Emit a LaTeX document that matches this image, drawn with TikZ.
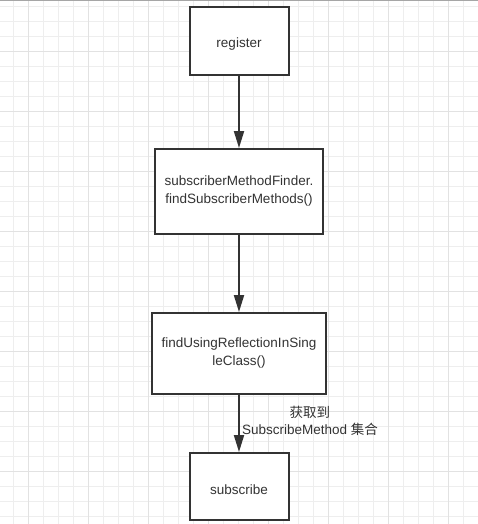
\documentclass[tikz,border=0pt]{standalone}
\usepackage{fontspec}
\setmainfont{Liberation Sans}
\newfontfamily\cjk{Noto Sans CJK SC}
\usetikzlibrary{positioning, arrows.meta}
\definecolor{gridminor}{HTML}{EEEEEE}
\definecolor{gridmajor}{HTML}{E2E2E2}
\definecolor{ink}{HTML}{333333}
\tikzset{box/.style = {
  % Rectangle:
  rectangle,
  draw=ink, line width=2pt, fill=white,
  % Text
  text=ink, align=center, inner sep=0pt,
  font=\fontsize{13.5}{18}\selectfont,
  execute at begin node={\rule{0pt}{15.5pt}}
  }}
\tikzset{note/.style = {
  text=ink, align=center, inner sep=0pt,
  font=\fontsize{13.5}{17}\selectfont
  }}
\tikzset{arrow/.style = {
  -{Triangle[length=17pt,width=10pt]},
  draw=ink,
  line width=2pt
  }}

\begin{document}
\begin{tikzpicture}[x=1pt, y=1pt]
\useasboundingbox (0,0) rectangle (478,-524);

% GRID
\fill [white] (0,0) rectangle (478,-524);
\foreach \k in {0,...,31}
  \draw [gridminor, line width=1pt] ({13.33+15*\k},0) -- ({13.33+15*\k},-524);
\foreach \k in {0,...,34}
  \draw [gridminor, line width=1pt] (0,{-6.67-15*\k}) -- (478,{-6.67-15*\k});
\foreach \k in {0,...,7}
  \draw [gridmajor, line width=1.5pt] ({28.33+60*\k},0) -- ({28.33+60*\k},-524);
\foreach \k in {0,...,7}
  \draw [gridmajor, line width=1.5pt] (0,{-51.67-60*\k}) -- (478,{-51.67-60*\k});
\draw [gray!70, line width=1.5pt] (0,-0.75) -- (478,-0.75);

% NODES
\node (register) [box, minimum width=99pt, minimum height=68pt] at (239,-41) {register};
\node (finder) [box, minimum width=168pt, minimum height=85pt, below=72pt of register]
  {subscriberMethodFinder.\\findSubscriberMethods()};
\node (reflect) [box, minimum width=174pt, minimum height=81pt, below=77pt of finder]
  {findUsingReflectionInSing\\leClass()};
\node (subscribe) [box, minimum width=99pt, minimum height=67pt, below=57pt of reflect] {subscribe};

% arrows
\draw [arrow] (register) -- (finder);
\draw [arrow] (finder) -- (reflect);
\draw [arrow] (reflect) -- node (getset) [note, pos=0.45, anchor=west, xshift=2pt]
  {{\cjk 获取到}\\SubscribeMethod {\cjk 集合}} (subscribe);
\end{tikzpicture}
\end{document}
